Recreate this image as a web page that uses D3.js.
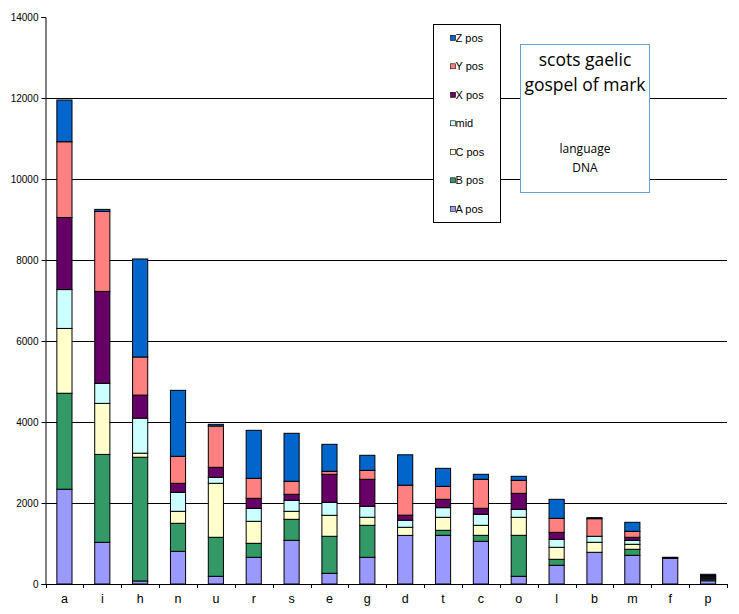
<!DOCTYPE html>
<html><head><meta charset="utf-8">
<script src="https://cdn.jsdelivr.net/npm/d3@7"></script>
<style>body{margin:0;background:#fff;} svg{display:block;}</style>
</head><body>
<svg id="chart" width="739" height="614"></svg>
<script>
const categories = ["a","i","h","n","u","r","s","e","g","d","t","c","o","l","b","m","f","p"];
const seriesNames = ["A pos","B pos","C pos","mid","X pos","Y pos","Z pos"];
const seriesColors = ["#9999FF","#339966","#FFFFCC","#CCFFFF","#660066","#FF8080","#0066CC"];
const A_pos = [2340,1030,75,807,190,659,1079,264,659,1200,1202,1054,190,462,783,709,635,80];
const B_pos = [2370,2170,3055,692,963,346,518,914,790,0,124,148,1012,148,0,148,0,40];
const C_pos = [1600,1260,100,296,1333,543,198,518,198,200,321,247,445,296,247,123,0,20];
const mid   = [960,495,865,469,148,321,272,321,271,175,238,272,197,198,148,99,0,30];
const X_pos = [1780,2270,570,222,247,247,148,691,667,125,206,148,395,172,0,74,0,20];
const Y_pos = [1870,1975,940,667,1020,494,321,75,222,740,321,716,321,346,435,148,10,20];
const Z_pos = [1030,50,2420,1629,42,1185,1185,666,371,750,444,123,99,469,25,222,15,30];
const yTicks = [0,2000,4000,6000,8000,10000,12000,14000];
const titleLines = ["scots gaelic","gospel of mark"];
const subLines = ["language","DNA"];

const seriesValues = [A_pos,B_pos,C_pos,mid,X_pos,Y_pos,Z_pos];
const rows = categories.map((c,i)=>{const r={cat:c}; seriesNames.forEach((s,j)=>r[s]=seriesValues[j][i]); return r;});

const svg = d3.select("#chart");
const pLeft=45.5, pRight=727, pTop=17, pBottom=584;
const x = d3.scaleBand().domain(categories).range([pLeft,pRight]).paddingInner(0.6).paddingOuter(0.3);
const y = d3.scaleLinear().domain([0,14000]).range([pBottom,pTop]);

// gridlines
svg.append("g").selectAll("line").data(yTicks.filter(t=>t>0 && t<14000)).join("line")
  .attr("x1",pLeft).attr("x2",pRight).attr("y1",d=>Math.round(y(d))+0.5).attr("y2",d=>Math.round(y(d))+0.5)
  .attr("stroke","#000").attr("stroke-width",1);

// bars
const stack = d3.stack().keys(seriesNames)(rows);
svg.append("g").selectAll("g").data(stack).join("g")
  .attr("fill",(d,i)=>seriesColors[i])
  .selectAll("rect").data(d=>d).join("rect")
  .attr("x",d=>x(d.data.cat)).attr("width",x.bandwidth())
  .attr("y",d=>y(d[1])).attr("height",d=>Math.max(0,y(d[0])-y(d[1])))
  .attr("stroke","#000").attr("stroke-width",1);

// y axis
const yAxis = d3.axisLeft(y).tickValues(yTicks).tickSize(4).tickPadding(3).tickFormat(d3.format("d"));
const gy = svg.append("g").attr("transform",`translate(${pLeft},0)`).call(yAxis);
gy.selectAll("text").attr("font-family","Liberation Sans, Arial, sans-serif").attr("font-size",10).attr("fill","#000");
gy.selectAll("line,path").attr("stroke","#000");

// x axis
const gx = svg.append("g").attr("transform",`translate(0,${pBottom})`);
gx.append("line").attr("x1",pLeft).attr("x2",pRight).attr("y1",0.5).attr("y2",0.5).attr("stroke","#000");
const bounds = d3.range(categories.length+1).map(i=>pLeft+i*(pRight-pLeft)/categories.length);
gx.selectAll("line.t").data(bounds).join("line").attr("class","t")
  .attr("x1",d=>Math.round(d)+0.5).attr("x2",d=>Math.round(d)+0.5).attr("y1",0).attr("y2",4).attr("stroke","#000");
gx.selectAll("text").data(categories).join("text")
  .attr("x",d=>x(d)+x.bandwidth()/2).attr("y",19)
  .attr("text-anchor","middle").attr("font-family","Liberation Sans, Arial, sans-serif").attr("font-size",12.5).attr("fill","#000")
  .text(d=>d);

// legend
const lg = svg.append("g");
lg.append("rect").attr("x",433.5).attr("y",24.5).attr("width",67).attr("height",198).attr("fill","#fff").attr("stroke","#000");
const legendOrder = seriesNames.map((s,i)=>i).reverse();
legendOrder.forEach((si,k)=>{
  const cy = 37.8 + k*28.5;
  lg.append("rect").attr("x",450.5).attr("y",cy-2.5).attr("width",5).attr("height",5).attr("fill",seriesColors[si]).attr("stroke","#000").attr("stroke-width",0.6);
  lg.append("text").attr("x",455.5).attr("y",cy+4).attr("font-family","Liberation Sans, Arial, sans-serif").attr("font-size",11).attr("fill","#000").text(seriesNames[si]);
});

// title box
const tb = svg.append("g");
tb.append("rect").attr("x",520.5).attr("y",44.5).attr("width",129).attr("height",148).attr("fill","#fff").attr("stroke","#6A9FCB");
titleLines.forEach((t,i)=>tb.append("text").attr("x",585).attr("y",66+i*25).attr("text-anchor","middle")
  .attr("font-family","Open Sans, sans-serif").attr("font-size",17.5).attr("fill","#000").text(t));
subLines.forEach((t,i)=>tb.append("text").attr("x",585).attr("y",153+i*19).attr("text-anchor","middle")
  .attr("font-family","Open Sans, sans-serif").attr("font-size",12).attr("fill","#000").text(t));
</script>
</body></html>
